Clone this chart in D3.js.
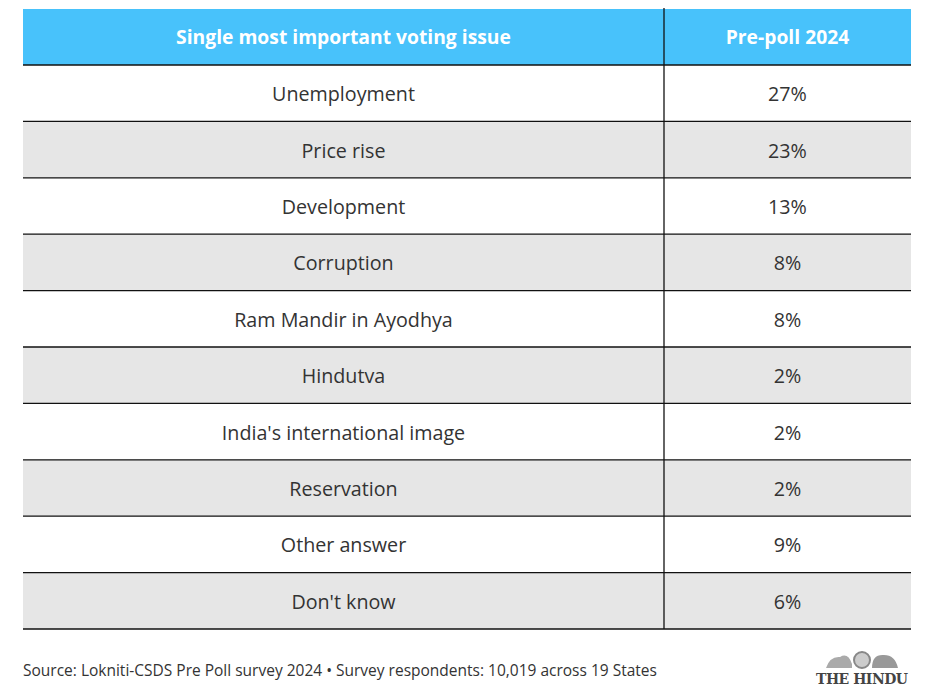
<!DOCTYPE html>
<html><head><meta charset="utf-8">
<script src="https://cdn.jsdelivr.net/npm/d3@7"></script>
<style>body{margin:0;background:#fff;}svg{display:block;}</style>
</head><body>
<div id="chart"></div>
<script>
const headers = ["Single most important voting issue", "Pre-poll 2024"];
const issues = ["Unemployment","Price rise","Development","Corruption","Ram Mandir in Ayodhya","Hindutva","India's international image","Reservation","Other answer","Don't know"];
const values = [27,23,13,8,8,2,2,2,9,6];
const source = "Source: Lokniti-CSDS Pre Poll survey 2024 \u2022 Survey respondents: 10,019 across 19 States";

const W = 928, H = 697;
const font = "'Source Sans Pro','Open Sans','Lato',sans-serif";
const svg = d3.select("#chart").append("svg").attr("width", W).attr("height", H);

const left = 23, right = 911, divX = 664, headTop = 9, headBot = 65, tableBot = 629;
const y = d3.scaleBand().domain(d3.range(issues.length)).range([headBot, tableBot]);

// header
svg.append("rect").attr("x", left).attr("y", headTop).attr("width", right-left).attr("height", headBot-headTop).attr("fill", "#48c2fb");
svg.append("text").attr("x", (left+divX)/2).attr("y", (headTop+headBot)/2 + 7).attr("text-anchor","middle")
  .attr("fill","#fff").attr("font-family",font).attr("font-weight","bold").attr("font-size",19.3).text(headers[0]);
svg.append("text").attr("x", (divX+right)/2).attr("y", (headTop+headBot)/2 + 7).attr("text-anchor","middle")
  .attr("fill","#fff").attr("font-family",font).attr("font-weight","bold").attr("font-size",19.3).text(headers[1]);

const rows = svg.selectAll("g.row").data(issues).join("g").attr("class","row");
rows.append("rect").attr("x", left).attr("y", (d,i)=>y(i)).attr("width", right-left).attr("height", y.bandwidth())
  .attr("fill", (d,i)=> i%2 ? "#e6e6e6" : "#fff");
rows.append("text").attr("x", (left+divX)/2).attr("y", (d,i)=>y(i)+y.bandwidth()/2+8).attr("text-anchor","middle")
  .attr("fill","#333").attr("font-family",font).attr("font-size",19.7).text(d=>d);
rows.append("text").attr("x", (divX+right)/2).attr("y", (d,i)=>y(i)+y.bandwidth()/2+8).attr("text-anchor","middle")
  .attr("fill","#333").attr("font-family",font).attr("font-size",19.7).text((d,i)=>values[i]+"%");

// lines
const lineYs = [headBot].concat(issues.map((d,i)=>y(i)+y.bandwidth()));
svg.selectAll("line.h").data(lineYs).join("line").attr("class","h")
  .attr("x1", left).attr("x2", right).attr("y1", d=>d).attr("y2", d=>d)
  .attr("stroke","#111").attr("stroke-width",1.3);
svg.append("line").attr("x1",divX).attr("x2",divX).attr("y1",8).attr("y2",tableBot).attr("stroke","#111").attr("stroke-width",1.3);

// footer
svg.append("text").attr("x", left).attr("y", 676).attr("fill","#333").attr("font-family",font).attr("font-size",15.5).text(source);
// logo
const logo = svg.append("g");
logo.append("text").attr("x", 862).attr("y", 684).attr("text-anchor","middle").attr("fill","#444")
  .attr("font-family","'DejaVu Serif','Liberation Serif',serif").attr("font-weight","bold").attr("font-size",14).attr("textLength",92).text("THE HINDU");
logo.append("circle").attr("cx",862).attr("cy",660).attr("r",8).attr("fill","#ccc").attr("stroke","#888").attr("stroke-width",2);
logo.append("path").attr("d","M826,668 Q830,656 840,657 Q848,652 852,664 L852,668 Z").attr("fill","#aaa");
logo.append("path").attr("d","M872,668 Q872,654 884,655 Q895,655 898,668 Z").attr("fill","#999");
</script>
</body></html>
